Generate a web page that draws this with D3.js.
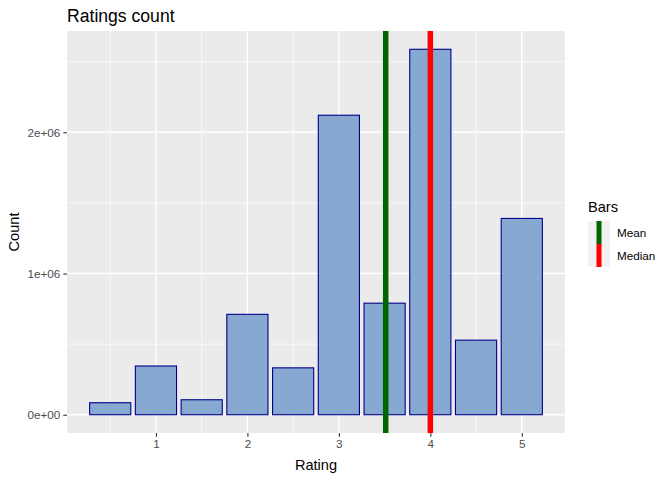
<!DOCTYPE html>
<html>
<head>
<meta charset="utf-8">
<script src="https://cdn.jsdelivr.net/npm/d3@7"></script>
<style>
  body { margin: 0; background: #fff; }
  text { font-family: "Liberation Sans", Arial, sans-serif; }
</style>
</head>
<body>
<svg width="672" height="480"></svg>
<script>
// ratings and how many times each was given
var ratings = [0.5, 1, 1.5, 2, 2.5, 3, 3.5, 4, 4.5, 5];
var counts = [85000, 345000, 106000, 711000, 332000, 2121000, 790000, 2588000, 528000, 1390000];
var meanRating = 3.512;
var medianRating = 4;
var xTicks = [1, 2, 3, 4, 5];
var yTicks = [0, 1e6, 2e6];
var legendNames = ['Mean', 'Median'];
var legendColors = ['#006400', '#FF0000'];

var svg = d3.select('svg');
// panel edges (window.top is taken, so p-prefixed)
var pLeft = 67, pRight = 565, pTop = 31, pBottom = 433;

var x = d3.scaleLinear().domain([0.0275, 5.4725]).range([pLeft, pRight]);
var yMax = d3.max(counts);
var y = d3.scaleLinear().domain([-0.05 * yMax, 1.05 * yMax]).range([pBottom, pTop]);

// panel
svg.append('rect')
  .attr('x', pLeft).attr('y', pTop)
  .attr('width', pRight - pLeft).attr('height', pBottom - pTop)
  .attr('fill', '#EBEBEB');

// minor grid
var xMinor = [0.5, 1.5, 2.5, 3.5, 4.5];
var yMinor = [0.5e6, 1.5e6, 2.5e6];
svg.selectAll('line.xminor').data(xMinor).enter().append('line')
  .attr('x1', d => x(d)).attr('x2', d => x(d))
  .attr('y1', pTop).attr('y2', pBottom)
  .attr('stroke', '#fff').attr('stroke-width', 0.7);
svg.selectAll('line.yminor').data(yMinor).enter().append('line')
  .attr('y1', d => y(d)).attr('y2', d => y(d))
  .attr('x1', pLeft).attr('x2', pRight)
  .attr('stroke', '#fff').attr('stroke-width', 0.7);

// major grid
svg.selectAll('line.xmajor').data(xTicks).enter().append('line')
  .attr('x1', d => x(d)).attr('x2', d => x(d))
  .attr('y1', pTop).attr('y2', pBottom)
  .attr('stroke', '#fff').attr('stroke-width', 1.4);
svg.selectAll('line.ymajor').data(yTicks).enter().append('line')
  .attr('y1', d => y(d)).attr('y2', d => y(d))
  .attr('x1', pLeft).attr('x2', pRight)
  .attr('stroke', '#fff').attr('stroke-width', 1.4);

// bars
var bw = 0.45;
svg.selectAll('rect.bar').data(ratings).enter().append('rect')
  .attr('class', 'bar')
  .attr('x', d => x(d - bw / 2))
  .attr('width', d => x(d + bw / 2) - x(d - bw / 2))
  .attr('y', (d, i) => y(counts[i]))
  .attr('height', (d, i) => y(0) - y(counts[i]))
  .attr('fill', '#87A8D0')
  .attr('stroke', '#00008B')
  .attr('stroke-width', 1.1);

// mean / median lines
svg.selectAll('line.vline').data([meanRating, medianRating]).enter().append('line')
  .attr('x1', d => x(d)).attr('x2', d => x(d))
  .attr('y1', pTop).attr('y2', pBottom)
  .attr('stroke', (d, i) => legendColors[i])
  .attr('stroke-width', 5.5);

// axes
var xAxis = d3.axisBottom(x).tickValues(xTicks).tickSize(3.7).tickPadding(3).tickFormat(d3.format('d'));
var gx = svg.append('g').attr('transform', 'translate(0,' + pBottom + ')').call(xAxis);
var yAxis = d3.axisLeft(y).tickValues(yTicks).tickSize(3.7).tickPadding(3)
  .tickFormat(d => d === 0 ? '0e+00' : (d / 1e6) + 'e+06');
var gy = svg.append('g').attr('transform', 'translate(' + pLeft + ',0)').call(yAxis);
[gx, gy].forEach(function(g) {
  g.select('.domain').remove();
  g.selectAll('line').attr('stroke', '#333333').attr('stroke-width', 1.1);
  g.selectAll('text').attr('fill', '#4D4D4D').style('font-size', '11.7px')
    .style('font-family', '"Liberation Sans", Arial, sans-serif');
});

// titles
svg.append('text').attr('x', pLeft).attr('y', 22)
  .style('font-size', '17.6px').attr('fill', '#000').text('Ratings count');
svg.append('text').attr('x', (pLeft + pRight) / 2).attr('y', 470)
  .attr('text-anchor', 'middle').style('font-size', '14.6px').text('Rating');
svg.append('text')
  .attr('transform', 'translate(19,' + ((pTop + pBottom) / 2) + ') rotate(-90)')
  .attr('text-anchor', 'middle').style('font-size', '14.6px').text('Count');

// legend
svg.append('text').attr('x', 588).attr('y', 212)
  .style('font-size', '14.6px').text('Bars');
var lg = svg.selectAll('g.key').data(legendNames).enter().append('g')
  .attr('transform', (d, i) => 'translate(588,' + (221 + i * 23) + ')');
lg.append('rect').attr('width', 22).attr('height', 23).attr('fill', '#F2F2F2');
lg.append('line').attr('x1', 11).attr('x2', 11).attr('y1', 0).attr('y2', 23)
  .attr('stroke', (d, i) => legendColors[i]).attr('stroke-width', 5);
lg.append('text').attr('x', 29).attr('y', 16)
  .style('font-size', '11.7px').text(d => d);
</script>
</body>
</html>
